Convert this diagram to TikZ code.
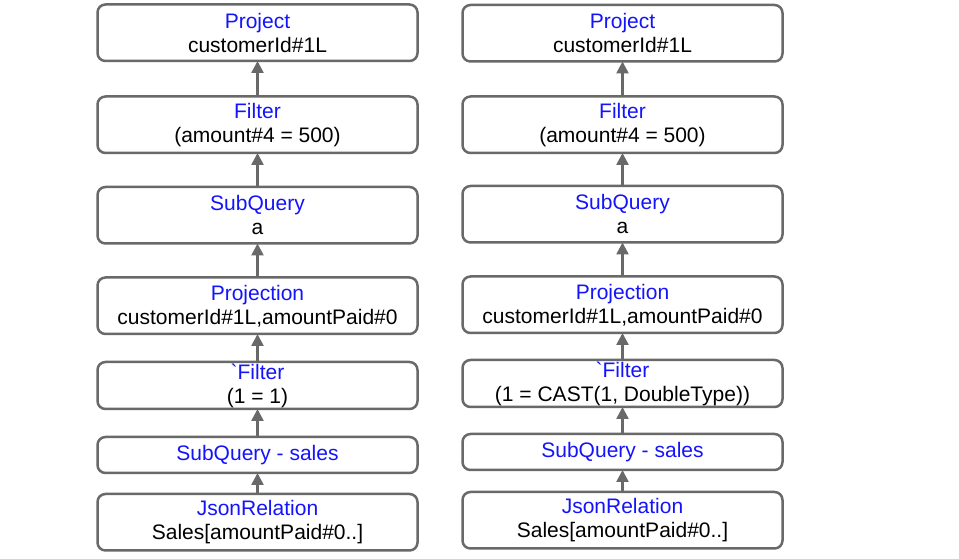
\documentclass[tikz,border=0pt]{standalone}
\usepackage{fontspec}
\setmainfont{Liberation Sans}
\usepackage{xcolor}
\usepackage{tikz}
\usetikzlibrary{arrows.meta,positioning}
\definecolor{opblue}{RGB}{20,20,250}
\definecolor{opgray}{RGB}{105,105,105}
\tikzset{
  opnode/.style={draw=opgray, line width=2.5pt, rounded corners=8pt, fill=white,
    align=center, minimum width=320pt, minimum height=56.5pt, inner sep=0pt, outer sep=0pt},
  flatnode/.style={opnode, minimum height=47pt},
  thinnode/.style={opnode, minimum height=36pt},
  flow/.style={-{Triangle[length=12pt, width=12pt]}, line width=2.5pt, draw=opgray}
}
\newcommand{\opname}[1]{\textcolor{opblue}{#1}}

\begin{document}
\begin{tikzpicture}[x=1pt, y=1pt, font=\fontsize{21}{24}\selectfont]
        \useasboundingbox (0,0) rectangle (959,559);
        % left plan
        \node[opnode, anchor=north] (lproject) at (257.5,554.5) {\opname{Project}\\customerId\#1L};
        \node[opnode, below=35.5pt of lproject] (lfilter) {\opname{Filter}\\(amount\#4 = 500)};
        \node[opnode, below=34pt of lfilter] (lsubq) {\opname{SubQuery}\\a};
        \node[opnode, below=34pt of lsubq] (lproj) {\opname{Projection}\\customerId\#1L,amountPaid\#0};
        \node[flatnode, below=28pt of lproj] (lcond) {\opname{\textasciigrave Filter}\\(1 = 1)};
        \node[thinnode, below=28pt of lcond] (lsales) {\opname{SubQuery - sales}};
        \node[opnode, below=21pt of lsales] (ljson) {\opname{JsonRelation}\\Sales[amountPaid\#0..]};
        % right plan
        \node[opnode, anchor=north] (rproject) at (622.5,554) {\opname{Project}\\customerId\#1L};
        \node[opnode, below=35pt of rproject] (rfilter) {\opname{Filter}\\(amount\#4 = 500)};
        \node[opnode, below=33pt of rfilter] (rsubq) {\opname{SubQuery}\\a};
        \node[opnode, below=34pt of rsubq] (rproj) {\opname{Projection}\\customerId\#1L,amountPaid\#0};
        \node[flatnode, below=27pt of rproj] (rcond) {\opname{\textasciigrave Filter}\\(1 = CAST(1, DoubleType))};
        \node[thinnode, below=27pt of rcond] (rsales) {\opname{SubQuery - sales}};
        \node[opnode, below=22pt of rsales] (rjson) {\opname{JsonRelation}\\Sales[amountPaid\#0..]};
        \draw[flow] (ljson) -- (lsales);
        \draw[flow] (lsales) -- (lcond);
        \draw[flow] (lcond) -- (lproj);
        \draw[flow] (lproj) -- (lsubq);
        \draw[flow] (lsubq) -- (lfilter);
        \draw[flow] (lfilter) -- (lproject);
        \draw[flow] (rjson) -- (rsales);
        \draw[flow] (rsales) -- (rcond);
        \draw[flow] (rcond) -- (rproj);
        \draw[flow] (rproj) -- (rsubq);
        \draw[flow] (rsubq) -- (rfilter);
        \draw[flow] (rfilter) -- (rproject);
    \end{tikzpicture}
\end{document}
